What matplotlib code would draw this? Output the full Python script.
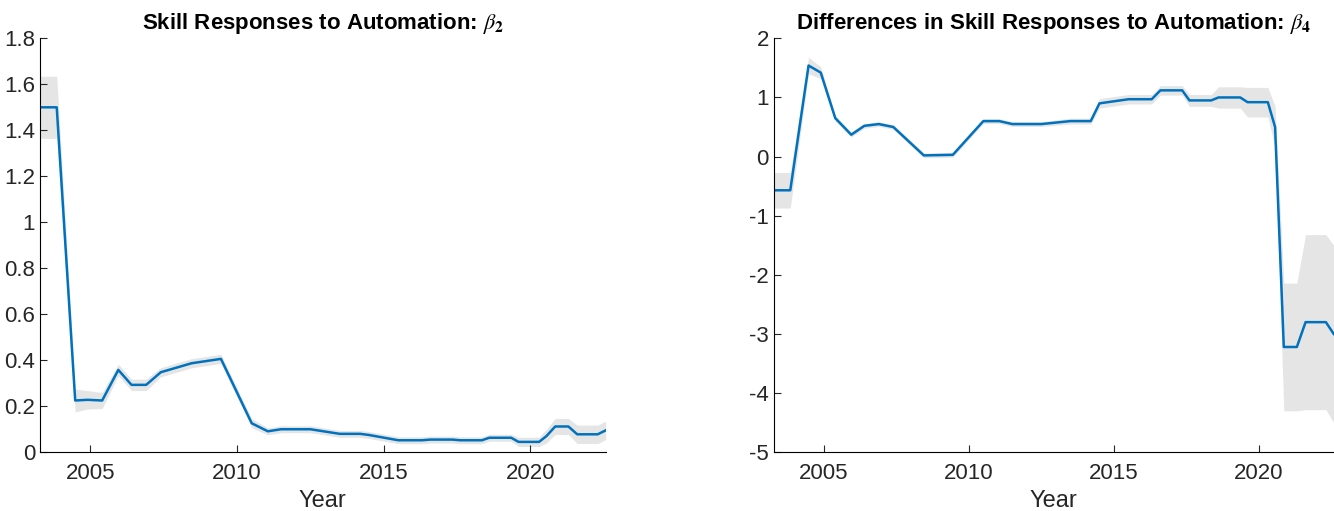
import matplotlib
matplotlib.use("Agg")
import matplotlib.pyplot as plt
import numpy as np

years = [2003.28, 2003.85, 2004.48, 2004.9, 2005.4, 2005.95, 2006.4, 2006.9, 2007.4, 2008.45,
         2009.45, 2010.5, 2011.05, 2011.5, 2012.5, 2013.5, 2014.2, 2014.5, 2015.5, 2016.3,
         2016.6, 2017.35, 2017.6, 2018.35, 2018.6, 2019.35, 2019.6, 2020.3, 2020.55, 2020.85,
         2021.3, 2021.6, 2022.3, 2022.57]
beta2 = [1.5, 1.5, 0.225, 0.228, 0.225, 0.358, 0.293, 0.293, 0.348, 0.387,
         0.406, 0.126, 0.091, 0.1, 0.1, 0.08, 0.08, 0.075, 0.052, 0.052,
         0.055, 0.055, 0.052, 0.052, 0.063, 0.063, 0.045, 0.045, 0.07, 0.112,
         0.112, 0.078, 0.078, 0.095]
beta2_hw = [0.135, 0.135, 0.05, 0.04, 0.035, 0.025, 0.025, 0.025, 0.02, 0.02,
            0.02, 0.02, 0.015, 0.015, 0.015, 0.015, 0.015, 0.015, 0.015, 0.015,
            0.015, 0.015, 0.015, 0.015, 0.015, 0.015, 0.02, 0.02, 0.03, 0.035,
            0.035, 0.04, 0.04, 0.04]
beta4 = [-0.57, -0.57, 1.54, 1.42, 0.65, 0.37, 0.52, 0.55, 0.5, 0.02,
         0.03, 0.6, 0.6, 0.55, 0.55, 0.6, 0.6, 0.9, 0.97, 0.97,
         1.12, 1.12, 0.95, 0.95, 1.0, 1.0, 0.92, 0.92, 0.5, -3.22,
         -3.22, -2.8, -2.8, -3.0]
beta4_hw = [0.3, 0.3, 0.14, 0.1, 0.05, 0.04, 0.04, 0.04, 0.04, 0.04,
            0.04, 0.04, 0.04, 0.04, 0.04, 0.05, 0.05, 0.08, 0.08, 0.08,
            0.08, 0.08, 0.1, 0.1, 0.18, 0.18, 0.25, 0.25, 0.35, 1.08,
            1.08, 1.48, 1.48, 1.5]

plt.rcParams['font.family'] = ['Liberation Sans', 'DejaVu Sans']
plt.rcParams['mathtext.fontset'] = 'stix'

fig = plt.figure(figsize=(13.34, 5.11), dpi=100)
axL = fig.add_axes([0.030, 0.115, 0.424, 0.810])
axR = fig.add_axes([0.580, 0.115, 0.4198, 0.810])

def draw(ax, y, hw, title, ylim, yticks):
    x = np.array(years); y = np.array(y); hw = np.array(hw)
    ax.fill_between(x, y - hw, y + hw, color='#e5e5e5', linewidth=0)
    ax.plot(x, y, color='#0072BD', lw=1.8)
    ax.set_xlim(years[0], years[-1])
    ax.set_ylim(*ylim)
    ax.set_yticks(yticks)
    ax.set_yticklabels([f"{t:g}" for t in yticks])
    ax.set_xticks([2005, 2010, 2015, 2020])
    for s in ['top', 'right']:
        ax.spines[s].set_visible(False)
    for s in ['left', 'bottom']:
        ax.spines[s].set_linewidth(0.8)
    ax.tick_params(direction='in', labelsize=16, length=5, width=0.8, colors='#262626')
    ax.tick_params(axis='x', pad=8)
    ax.set_xlabel('Year', fontsize=17, color='#262626', labelpad=4)
    ax.set_title(title, fontsize=16, fontweight='bold', pad=7)

draw(axL, beta2, beta2_hw, r'Skill Responses to Automation: $\beta_\mathbf{2}$', (0, 1.8),
     [0, 0.2, 0.4, 0.6, 0.8, 1, 1.2, 1.4, 1.6, 1.8])
draw(axR, beta4, beta4_hw, r'Differences in Skill Responses to Automation: $\beta_\mathbf{4}$', (-5, 2),
     [-5, -4, -3, -2, -1, 0, 1, 2])

fig.savefig('out.png', dpi=100)
